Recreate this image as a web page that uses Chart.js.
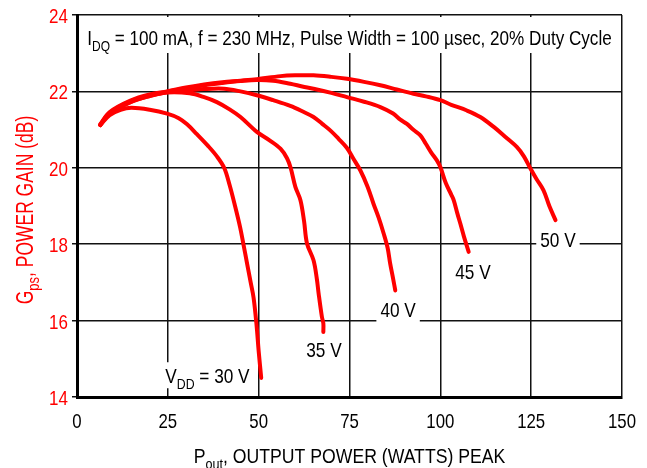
<!DOCTYPE html>
<html>
<head>
<meta charset="utf-8">
<script src="https://cdn.jsdelivr.net/npm/chart.js@4"></script>
<style>
  html, body { margin: 0; padding: 0; background: #fff; }
  #wrap { width: 647px; height: 468px; }
</style>
</head>
<body>
<div id="wrap"><canvas id="c" width="647" height="468"></canvas></div>
<script>
// ---- data ----
const seriesNames = ["30 V", "35 V", "40 V", "45 V", "50 V"];
const xTicks = [0, 25, 50, 75, 100, 125, 150];
const yTicks = [14, 16, 18, 20, 22, 24];

const v30 = [[6.4,21.12],[9,21.38],[12,21.52],[15,21.57],[20,21.52],[24.8,21.42],[28,21.3],[30.3,21.14],[33,20.88],[36,20.58],[38.5,20.3],[40.5,20.0],[42,19.55],[43.5,19.0],[44.9,18.44],[45.8,18.0],[46.8,17.5],[47.8,17.0],[48.6,16.6],[49.4,15.9],[50,15.2],[50.7,14.5]];
const v35 = [[6.4,21.12],[9,21.42],[14.7,21.72],[20,21.88],[24.8,21.97],[31,21.95],[35,21.85],[38.5,21.72],[42,21.53],[45,21.33],[49.5,20.94],[53,20.72],[56,20.5],[57.8,20.25],[58.8,20.0],[60.1,19.5],[61.5,19.15],[62.5,18.6],[63.3,18.02],[65.1,17.58],[66,17.1],[66.5,16.71],[67.4,16.1],[67.8,15.93],[67.8,15.7]];
const v40 = [[6.4,21.12],[9,21.42],[14.7,21.72],[20,21.88],[24.8,21.98],[30,22.02],[35,22.06],[40.4,22.07],[45,22.0],[49.5,21.9],[54,21.77],[58.7,21.62],[62,21.48],[65.1,21.33],[67.5,21.15],[69.7,20.98],[72,20.76],[74.3,20.52],[76,20.25],[78,19.93],[80,19.5],[81.6,19.06],[83,18.7],[84.4,18.28],[85.5,17.9],[86.2,17.49],[87,17.1],[87.6,16.79]];
const v45 = [[6.4,21.12],[9,21.44],[14.7,21.74],[20,21.9],[24.8,21.99],[30,22.08],[35,22.16],[40,22.22],[45,22.27],[49.5,22.3],[54,22.28],[58.7,22.2],[62,22.13],[65.1,22.07],[70,21.96],[74.3,21.85],[79,21.73],[83.5,21.59],[87,21.42],[89,21.26],[90.8,21.15],[92.5,21.0],[94.5,20.85],[96,20.63],[97.5,20.4],[99,20.2],[100,20.02],[101.5,19.6],[103,19.3],[103.7,19.15],[104.7,18.8],[105.5,18.54],[106.5,18.2],[107.8,17.8]];
const v50 = [[6.4,21.14],[9,21.46],[14.7,21.76],[20,21.92],[24.8,22.0],[30,22.1],[35,22.18],[40,22.24],[45,22.28],[49.5,22.32],[56,22.4],[60,22.42],[65.1,22.42],[70,22.38],[74.3,22.33],[79,22.25],[83.5,22.16],[88,22.05],[92.6,21.94],[96,21.87],[100,21.77],[103,21.65],[107.3,21.5],[111,21.33],[114.7,21.07],[118,20.8],[121.1,20.54],[123,20.3],[124.8,19.98],[126.5,19.7],[128.4,19.41],[130,19.0],[131.7,18.63]];

// curve labels: [text parts, x anchor, y anchor] in data units (left edge / baseline)
const curveLabels = [
  [[["V"],["DD",1],[" = 30 V"]], 24.3, 14.36],
  [[["35 V"]], 63.1, 15.05],
  [[["40 V"]], 83.5, 16.09],
  [[["45 V"]], 104.1, 17.08],
  [[["50 V"]], 127.5, 17.93]
];
const conditionText = [["I"],["DQ",1],[" = 100 mA, f = 230 MHz, Pulse Width = 100 \u00b5sec, 20% Duty Cycle"]];
const xTitle = [["P"],["out",1],[", OUTPUT POWER (WATTS) PEAK"]];
const yTitle = [["G"],["ps",1],[", POWER GAIN (dB)"]];

// ---- drawing ----
const FONT = '"Liberation Sans", Arial, sans-serif';
const RED = '#ff0000';

function toPts(a){ return a.map(p => ({x:p[0], y:p[1]})); }

// text drawn horizontally condensed (narrow Helvetica look)
function partsWidth(ctx, parts, size, k){
  let w = 0;
  for (const p of parts){
    ctx.font = (p[1] ? Math.round(size*0.72) : size) + 'px ' + FONT;
    w += ctx.measureText(p[0]).width * k;
  }
  return w;
}
function drawParts(ctx, parts, x, y, size, color, k){
  ctx.fillStyle = color;
  ctx.textBaseline = 'alphabetic';
  ctx.textAlign = 'left';
  for (const p of parts){
    const s = p[1] ? Math.round(size*0.72) : size;
    ctx.font = s + 'px ' + FONT;
    ctx.save();
    ctx.translate(x, y + (p[1] ? size*0.28 : 0));
    ctx.scale(k, 1);
    ctx.fillText(p[0], 0, 0);
    ctx.restore();
    x += ctx.measureText(p[0]).width * k;
  }
}

const textPlugin = {
  id: 'texts',
  beforeDatasetsDraw(chart){
    const ctx = chart.ctx, a = chart.chartArea;
    ctx.save();
    ctx.fillStyle = '#fff';
    ctx.fillRect(a.left + 2, a.top + 2, a.right - a.left - 4, 36);
    const w = partsWidth(ctx, conditionText, 20, 0.855);
    drawParts(ctx, conditionText, (a.left + a.right)/2 - w/2, a.top + 30, 20, '#000', 0.855);
    ctx.restore();
  },
  afterDatasetsDraw(chart){
    const ctx = chart.ctx, xs = chart.scales.x, ys = chart.scales.y, a = chart.chartArea;
    ctx.save();
    for (const [parts, dx, dy] of curveLabels){
      const px = xs.getPixelForValue(dx), py = ys.getPixelForValue(dy);
      const w = partsWidth(ctx, parts, 21, 0.82);
      ctx.fillStyle = '#fff';
      ctx.fillRect(px - 4, py - 21, w + 8, 26);
      drawParts(ctx, parts, px, py, 21, '#000', 0.82);
    }
    // tick labels
    for (const v of xTicks){
      const t = [[String(v)]];
      const w = partsWidth(ctx, t, 21, 0.8);
      drawParts(ctx, t, xs.getPixelForValue(v) - w/2, a.bottom + 31, 21, '#000', 0.8);
    }
    for (const v of yTicks){
      const t = [[String(v)]];
      const w = partsWidth(ctx, t, 20, 0.85);
      drawParts(ctx, t, a.left - 9 - w, ys.getPixelForValue(v) + 8, 20, RED, 0.85);
    }
    // x title
    const wx = partsWidth(ctx, xTitle, 21, 0.84);
    drawParts(ctx, xTitle, (a.left + a.right)/2 - wx/2, 463, 21, '#000', 0.84);
    // y title (rotated)
    const wy = partsWidth(ctx, yTitle, 23, 0.76);
    ctx.translate(33, 210);
    ctx.rotate(-Math.PI/2);
    drawParts(ctx, yTitle, -wy/2, 0, 23, RED, 0.76);
    ctx.restore();
  }
};

const datasets = [v30, v35, v40, v45, v50].map((d, i) => ({
  label: seriesNames[i],
  data: toPts(d),
  showLine: true,
  borderColor: RED,
  backgroundColor: RED,
  borderWidth: 4,
  pointRadius: 0,
  tension: 0.35,
  borderCapStyle: 'round',
  borderJoinStyle: 'round'
}));

new Chart(document.getElementById('c'), {
  type: 'scatter',
  data: { datasets },
  options: {
    responsive: false,
    animation: false,
    layout: { padding: { left: 0, top: 15, right: 25, bottom: 0 } },
    plugins: { legend: { display: false }, tooltip: { enabled: false } },
    scales: {
      x: {
        type: 'linear', min: 0, max: 150,
        afterBuildTicks: s => { s.ticks = xTicks.map(v => ({value: v})); },
        afterFit: s => { s.height = 71; },
        grid: { color: '#111', lineWidth: 1.5, drawTicks: false },
        border: { color: '#000', width: 3 },
        ticks: { display: false }
      },
      y: {
        type: 'linear', min: 14, max: 24,
        afterBuildTicks: s => { s.ticks = yTicks.map(v => ({value: v})); },
        afterFit: s => { s.width = 77; },
        grid: { color: '#111', lineWidth: 1.5, drawTicks: true, tickLength: 5 },
        border: { color: '#000', width: 3 },
        ticks: { display: false }
      }
    }
  },
  plugins: [textPlugin]
});
</script>
</body>
</html>
